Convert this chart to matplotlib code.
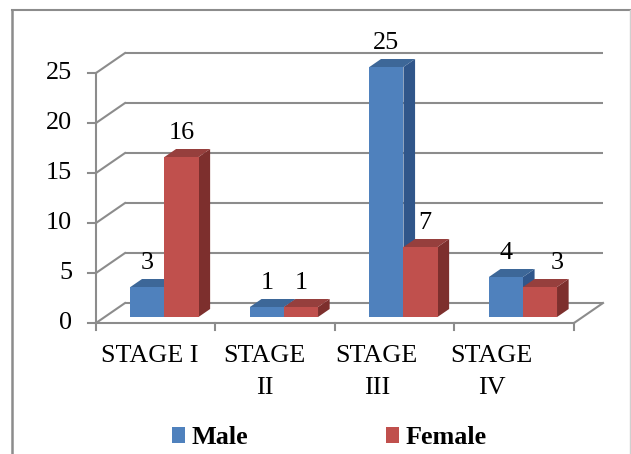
import matplotlib.pyplot as plt
import matplotlib.patches as patches
from matplotlib.lines import Line2D

# Patients by stage and sex
stages = ['STAGE I', 'STAGE\nII', 'STAGE\nIII', 'STAGE\nIV']
male = [3, 1, 25, 4]
female = [16, 1, 7, 3]
y_ticks = [0, 5, 10, 15, 20, 25]

plt.rcParams['font.family'] = 'serif'
plt.rcParams['font.serif'] = ['Liberation Serif', 'DejaVu Serif']
FS = 18.8

# face colours: front, top, side
blue = ('#4F81BD', '#3D6798', '#30568A')
red = ('#C0504D', '#963F3D', '#7D2F2D')
grid_color = '#8C8C8C'

fig = plt.figure(figsize=(6.31, 4.54), dpi=100)
ax = fig.add_axes([0, 0, 1, 1])
ax.set_xlim(-0.8033, 4.477)
ax.set_ylim(-13.1, 32.3)
ax.axis('off')

# oblique projection of the depth axis
DX, DY = 0.243, 2.0
n = len(stages)
ymax = y_ticks[-1]

# back wall gridlines and left wall diagonals
for v in y_ticks:
    ax.plot([DX, n + DX], [v + DY, v + DY], color=grid_color, lw=1.5, zorder=1,
            solid_capstyle='butt')
    ax.plot([0, DX], [v, v + DY], color=grid_color, lw=1.5, zorder=1)
    ax.plot([-0.067, 0], [v, v], color=grid_color, lw=1.5, zorder=1)
    ax.text(-0.2, v, str(v), ha='right', va='center', fontsize=FS, color='black')

# value axis and floor
ax.plot([0, 0], [0, ymax], color=grid_color, lw=1.5, zorder=1)
ax.plot([0, n], [0, 0], color=grid_color, lw=1.5, zorder=1)
ax.plot([n, n + DX], [0, DY], color=grid_color, lw=1.5, zorder=1)
for i in range(n + 1):
    ax.plot([i, i], [0, -0.7], color=grid_color, lw=1.5, zorder=1)

label_shift = [-0.05, -0.09, -0.15, -0.19]
for i, s in enumerate(stages):
    ax.text(i + 0.5 + label_shift[i], -2.2, s, ha='center', va='top',
            fontsize=FS, linespacing=1.6)

# 3D bars
d0, dd = 0.3, 0.4
bw = 0.285
ox, oy = d0 * DX, d0 * DY
bx, by = dd * DX, dd * DY


def bar3d(x0, v, cols):
    front = patches.Rectangle((x0, oy), bw, v, facecolor=cols[0],
                              edgecolor='none', zorder=3)
    side = patches.Polygon([(x0 + bw, oy), (x0 + bw + bx, oy + by),
                            (x0 + bw + bx, oy + by + v), (x0 + bw, oy + v)],
                           closed=True, facecolor=cols[2], edgecolor='none', zorder=3)
    top = patches.Polygon([(x0, oy + v), (x0 + bx, oy + v + by),
                           (x0 + bw + bx, oy + v + by), (x0 + bw, oy + v)],
                          closed=True, facecolor=cols[1], edgecolor='none', zorder=3)
    for p in (side, top, front):
        ax.add_patch(p)


female_label_dx = [0, 0, 0.04, 0.14]
for i in range(n):
    c = i + 0.5 + ox
    bar3d(c - bw, male[i], blue)
    bar3d(c, female[i], red)
    ax.text(c - bw / 2, male[i] + oy + 2.4, str(male[i]), ha='center',
            va='center', fontsize=FS, zorder=4)
    ax.text(c + bw / 2 + female_label_dx[i], female[i] + oy + 2.4, str(female[i]),
            ha='center', va='center', fontsize=FS, zorder=4)

handles = [patches.Patch(facecolor=blue[0], label='Male'),
           patches.Patch(facecolor=red[0], label='Female')]
ax.legend(handles=handles, loc='center', bbox_to_anchor=(0.522, 0.036), ncol=2,
          frameon=False, prop={'size': FS, 'weight': 'bold'},
          handlelength=0.5, handleheight=0.6, handletextpad=0.25,
          columnspacing=5.3)

# chart border
W, H = 631, 454
fig.add_artist(Line2D([12 / W, 12 / W], [0, 1 - 10 / H], color='#8C8C8C', lw=1.8,
                      transform=fig.transFigure))
fig.add_artist(Line2D([12 / W, 630 / W], [1 - 10 / H, 1 - 10 / H], color='#8C8C8C',
                      lw=1.5, transform=fig.transFigure))
fig.add_artist(Line2D([630 / W, 630 / W], [0, 1 - 10 / H], color='#D0D0D0', lw=1.0,
                      transform=fig.transFigure))

plt.savefig('out.png', dpi=100, facecolor='white')
plt.close()
